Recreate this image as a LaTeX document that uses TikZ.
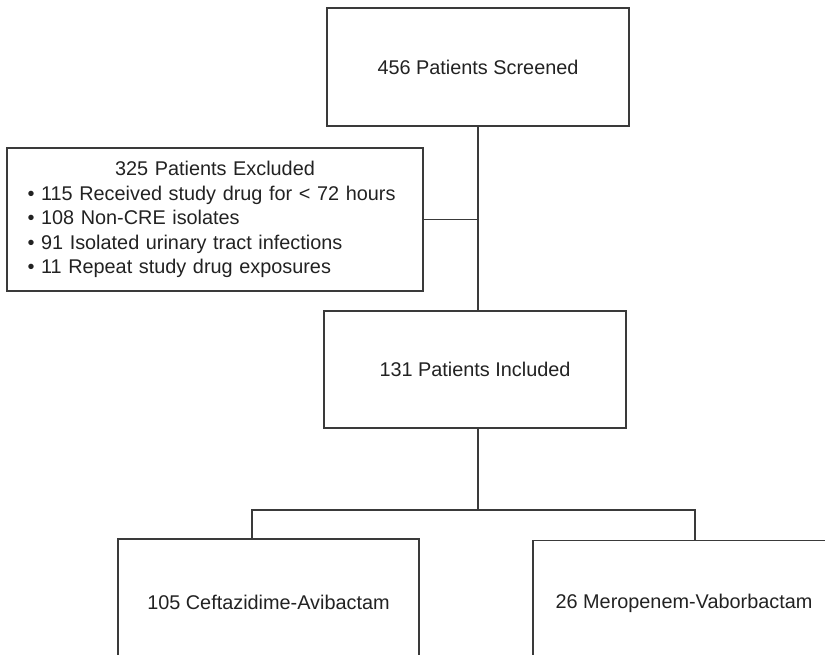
\documentclass[tikz,border=0pt]{standalone}
\usepackage{fontspec}
\setmainfont{Liberation Sans}
\usepackage{xcolor}
\usepackage{tikz}
\usetikzlibrary{positioning}
\definecolor{boxline}{HTML}{3A3A3A}
\definecolor{inktext}{HTML}{222222}

\begin{document}
\begin{tikzpicture}[
    every node/.style={font=\fontsize{11.3}{14}\selectfont, text=inktext, align=center},
    flowbox/.style={draw=boxline, line width=0.75pt, inner sep=0pt},
    conn/.style={draw=boxline, line width=0.6pt}
  ]
  \clip (0,0) rectangle (16.5,-13.1);

  % ---- screening and exclusions -------------------------------------------
  \node[flowbox, minimum width=6.04cm, minimum height=2.36cm] (screened)
    at (9.56,-1.34) {456 Patients Screened};
  \node[flowbox, minimum width=8.32cm, minimum height=2.86cm,
        text width=7.5cm, align=left] (excluded) at (4.30,-4.39)
    {\makebox[\linewidth]{325 Patients Excluded}\\
     • 115 Received study drug for < 72 hours\\
     • 108 Non-CRE isolates\\
     • 91 Isolated urinary tract infections\\
     • 11 Repeat study drug exposures};

  % ---- included cohort ----------------------------------------------------
  \node[flowbox, minimum width=6.04cm, minimum height=2.34cm] (included)
    at (9.50,-7.39) {131 Patients Included};

  % ---- treatment arms (run off the page) -----------------------------------
  \node[flowbox, minimum width=6.02cm, minimum height=2.52cm] (cazavi)
    at (5.37,-12.04) {105 Ceftazidime-Avibactam};
  \node[flowbox, minimum width=6.04cm, minimum height=2.5cm] (merovab)
    at (13.68,-12.06) {26 Meropenem-Vaborbactam};

  % ---- connexions ----------------------------------------------------------
  \coordinate (fork)  at (9.56,-10.2);
  \coordinate (forkl) at (5.04,-10.2);
  \coordinate (forkr) at (13.9,-10.2);
  \draw[conn] (screened.south) -- (screened.south |- included.north);
  \draw[conn] (excluded.east) -- (excluded.east -| screened.south);
  \draw[conn] (included.south -| fork) -- (fork);
  \draw[conn] (forkl |- cazavi.north) -- (forkl) -- (forkr) -- (forkr |- merovab.north);

\end{tikzpicture}
\end{document}
